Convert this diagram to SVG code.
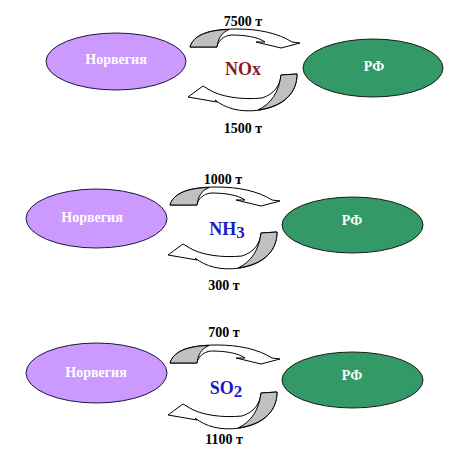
<svg xmlns="http://www.w3.org/2000/svg" xmlns:xlink="http://www.w3.org/1999/xlink" width="465" height="460" viewBox="0 0 465 460">
<style>
.nor{fill:#CC99FF;stroke:#1a1a3a;stroke-width:1}
.rf{fill:#339966;stroke:#1a1a1a;stroke-width:1}
.nt{font-family:"Liberation Serif","Times New Roman",serif;font-size:14px;font-weight:bold;fill:#FFFFFF;text-anchor:middle}
.lbl{font-family:"Liberation Serif","Times New Roman",serif;font-size:14px;font-weight:bold;fill:#000;text-anchor:middle}
.chem{font-family:"Liberation Serif","Times New Roman",serif;font-size:18px;font-weight:bold;text-anchor:middle}
.rib{fill:#FFFFFF;stroke:#000;stroke-width:1;stroke-linejoin:round}
.shade{fill:#C0C0C0;stroke:#000;stroke-width:1;stroke-linejoin:round}
</style>
<defs>
<g id="arrTop">
<path class="rib" d="M190,47 C194,34 210,29 237,29 C258,29 278,33 292,42 L300,43 L281,48 L256,42 L265,42 C258,37 245,35 231,35 C223,36 218,41 217,47 Z"/>
<path class="shade" d="M190,47 C193,36 207,30 229,29.5 C221,33 218,39 217,47 Z"/>
</g>
<g id="arrBot">
<path class="rib" d="M297,74 C297,92 285,106 260,110 C240,113 225,108 215,100 L217,102 L188,97 L203,86 L208,89 C220,97 242,100 262,98 C274,94 280,86 281,75 Z"/>
<path class="shade" d="M281,75 L297,74 C297,92 285,106 258,110 C271,104 279,92 281,75 Z"/>
</g>
</defs>
<g id="connectors">
<use xlink:href="#arrTop"/>
<use xlink:href="#arrBot"/>
<use xlink:href="#arrTop" transform="translate(-20,158)"/>
<use xlink:href="#arrBot" transform="translate(-20,158)"/>
<use xlink:href="#arrTop" transform="translate(-20,316)"/>
<use xlink:href="#arrBot" transform="translate(-20,318)"/>
<text class="lbl" x="243" y="26">7500 т</text>
<text class="lbl" x="243" y="133">1500 т</text>
<text class="lbl" x="223" y="184">1000 т</text>
<text class="lbl" x="224" y="290">300 т</text>
<text class="lbl" x="224" y="337">700 т</text>
<text class="lbl" x="224" y="444">1100 т</text>
</g>
<g id="nox"><text class="chem" x="243" y="75" fill="#8C1C1C">NOx</text></g>
<g id="nh3"><text class="chem" x="227" y="235" fill="#1A1ACC">NH<tspan font-size="17" dy="3">3</tspan></text></g>
<g id="so2"><text class="chem" x="226" y="394" fill="#1A1ACC">SO<tspan font-size="17" dy="3">2</tspan></text></g>
<g id="norway1"><ellipse class="nor" cx="116" cy="61.5" rx="70" ry="28.5"/><text class="nt" x="116" y="64">Норвегия</text></g>
<g id="rf1"><ellipse class="rf" cx="373" cy="68" rx="70" ry="29"/><text class="nt" x="374" y="71">РФ</text></g>
<g id="norway2"><ellipse class="nor" cx="96.5" cy="218.5" rx="70.5" ry="29.5"/><text class="nt" x="92" y="222" font-weight="normal">Норвегия</text></g>
<g id="rf2"><ellipse class="rf" cx="352.5" cy="225" rx="70.5" ry="28"/><text class="nt" x="352" y="225">РФ</text></g>
<g id="norway3"><ellipse class="nor" cx="96.5" cy="373" rx="70.5" ry="30"/><text class="nt" x="96" y="377">Норвегия</text></g>
<g id="rf3"><ellipse class="rf" cx="352.5" cy="380" rx="70.5" ry="28"/><text class="nt" x="352" y="380">РФ</text></g>
</svg>
